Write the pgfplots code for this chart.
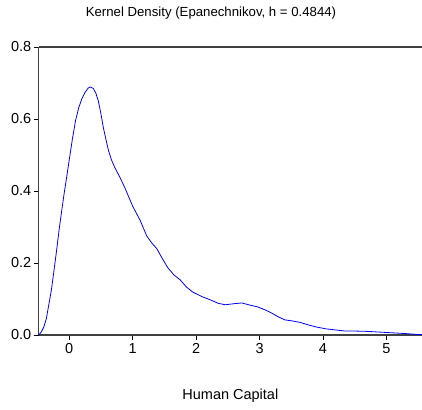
\documentclass[border=0pt]{standalone}
\usepackage{pgfplots}
\pgfplotsset{compat=1.18}
\usepackage{fontspec}
\setmainfont{Liberation Sans}
\begin{document}
\begin{tikzpicture}
\useasboundingbox (-38.7pt,-74pt) rectangle (383.3pt,335pt);
\begin{axis}[
  scale only axis, width=383.3pt, height=288pt,
  xmin=-0.48, xmax=5.56, ymin=0, ymax=0.8,
  axis x line=box, axis y line=left,
  axis line style={draw=black!75, line width=1.2pt},
  x axis line style={-}, y axis line style={-},
  xtick={0,1,2,3,4,5}, ytick={0,0.2,0.4,0.6,0.8},
  xtick pos=left, ytick pos=left,
  tick align=outside, major tick length=5pt,
  tick style={black, line width=0.8pt},
  /pgf/number format/assume math mode=true,
  yticklabel style={/pgf/number format/fixed, /pgf/number format/fixed zerofill, /pgf/number format/precision=1, font=\fontsize{14.5}{16}\selectfont, xshift=1pt},
  xticklabel style={font=\fontsize{14.5}{16}\selectfont},
  title={Kernel Density (Epanechnikov, h = 0.4844)},
  title style={at={(0.4495,1)}, anchor=center, yshift=28pt, font=\fontsize{13.2}{15}\selectfont},
  xlabel={Human Capital},
  xlabel style={at={(0.5,0)}, anchor=center, yshift=-61pt, font=\fontsize{14.5}{17}\selectfont},
  clip=false,
]
\addplot[color={rgb,255:red,0;green,0;blue,255}, line width=0.8pt, no marks] coordinates {
(-0.48,0.000) (-0.44,0.008) (-0.40,0.022) (-0.36,0.045) (-0.32,0.085) (-0.28,0.125)
(-0.24,0.178) (-0.20,0.232) (-0.16,0.290) (-0.12,0.342) (-0.08,0.392) (-0.04,0.438)
(0.00,0.485) (0.05,0.543) (0.10,0.595) (0.15,0.631) (0.20,0.656) (0.25,0.674)
(0.30,0.686) (0.33,0.689) (0.38,0.685) (0.42,0.672) (0.46,0.650) (0.50,0.615)
(0.54,0.575) (0.58,0.543) (0.62,0.512) (0.67,0.485) (0.72,0.465) (0.80,0.438)
(0.88,0.408) (1.00,0.358) (1.12,0.318) (1.22,0.276) (1.30,0.256) (1.38,0.240)
(1.46,0.215) (1.55,0.188) (1.65,0.167) (1.75,0.153) (1.85,0.133) (1.95,0.119)
(2.10,0.106) (2.22,0.098) (2.35,0.088) (2.46,0.084) (2.60,0.087) (2.72,0.089)
(2.85,0.083) (2.97,0.078) (3.10,0.069) (3.20,0.060) (3.30,0.050) (3.40,0.042)
(3.52,0.039) (3.64,0.035) (3.77,0.028) (3.90,0.022) (4.05,0.017) (4.20,0.014)
(4.35,0.011) (4.50,0.011) (4.70,0.010) (4.90,0.008) (5.10,0.006) (5.30,0.004)
(5.45,0.002) (5.56,0.001)
};
\end{axis}
\end{tikzpicture}
\end{document}
